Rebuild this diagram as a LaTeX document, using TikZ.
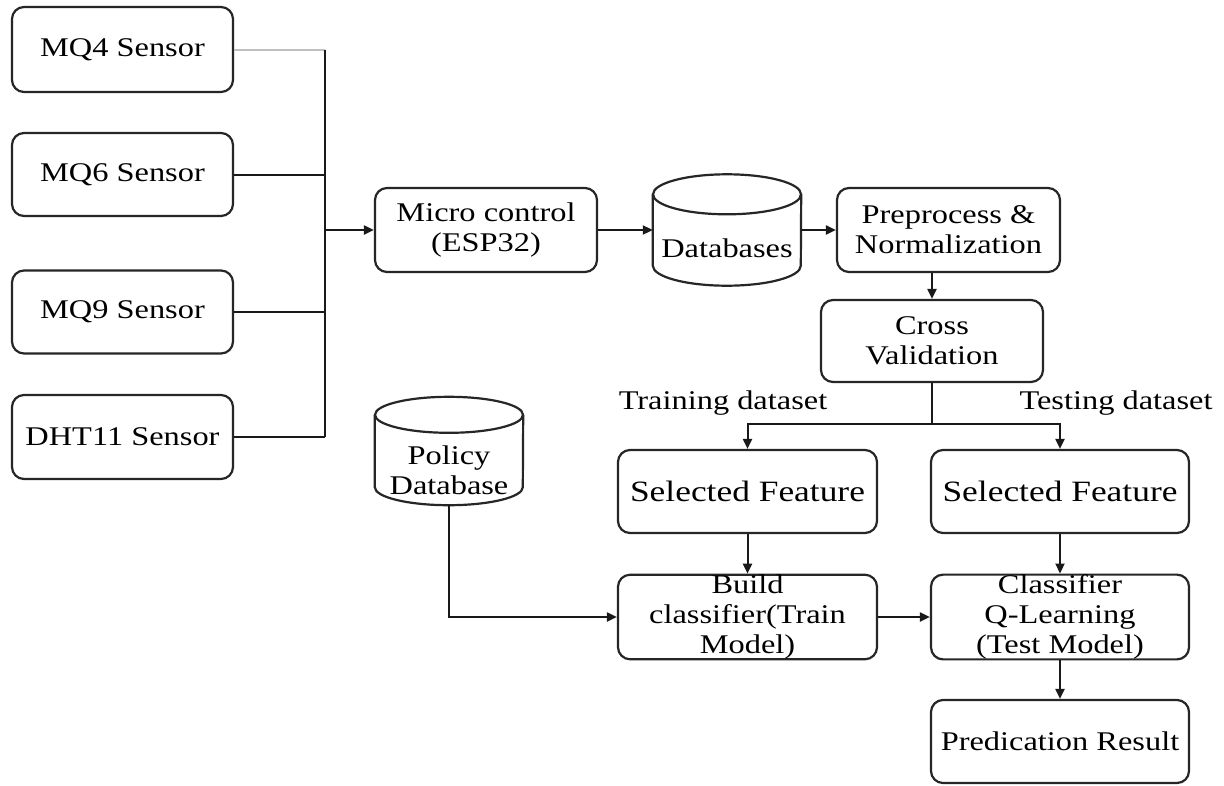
\documentclass[tikz,border=0pt]{standalone}
\usepackage{fontspec}
\setmainfont{Liberation Serif}[FakeStretch=1.2]
\usetikzlibrary{arrows.meta}
\begin{document}
\begin{tikzpicture}[x=1pt,y=-1pt,
  box/.style={draw=black!85, line width=2.2pt, rounded corners=12pt, align=center, font=\fontsize{27}{30}\selectfont, inner sep=0pt},
  lbl/.style={font=\fontsize{27}{30}\selectfont, inner sep=0pt, align=center},
  cylline/.style={draw=black!85, line width=2.2pt},
  conn/.style={draw=black!90, line width=2pt},
  arr/.style={conn, -{Triangle[length=10pt,width=9pt]}},
  sffont/.style={font=\fontsize{29.5}{31}\selectfont}
]
\path[use as bounding box, fill=white] (0,0) rectangle (1224,785);

% sensors
\node[box, minimum width=221pt, minimum height=85pt] (mq4) at (122.5,49.5) {MQ4 Sensor};
\node[box, minimum width=221pt, minimum height=83pt] (mq6) at (122.5,174.5) {MQ6 Sensor};
\node[box, minimum width=221pt, minimum height=83pt] (mq9) at (122.5,312) {MQ9 Sensor};
\node[box, minimum width=221pt, minimum height=84pt] (dht) at (122.5,437) {DHT11 Sensor};

\node[box, minimum width=222pt, minimum height=84pt] (micro) at (486,230) {Micro control\\(ESP32)};

% databases cylinder
\node[minimum width=148pt, minimum height=111pt, inner sep=0pt] (db) at (727,230) {};
\draw[cylline] ([yshift=-20pt]db.north west) -- ([yshift=20pt]db.south west)
  arc[start angle=180, end angle=360, x radius=74pt, y radius=20pt]
  -- ([yshift=-20pt]db.north east);
\draw[cylline] ([yshift=-20pt]db.north) ellipse[x radius=74pt, y radius=20pt];
\node[lbl] (dbt) at (727,248) {Databases};

\node[box, minimum width=223pt, minimum height=84pt] (pre) at (948.5,230) {Preprocess \&\\Normalization};
\node[box, minimum width=222pt, minimum height=82pt] (cross) at (932,341) {Cross\\Validation};

\node[lbl] (train) at (723,403) {Training dataset};
\node[lbl] (test) at (1116,403) {Testing dataset};

\node[box, sffont, minimum width=259pt, minimum height=83pt] (sf1) at (747.5,491.5) {Selected Feature};
\node[box, sffont, minimum width=258pt, minimum height=83pt] (sf2) at (1060,491.5) {Selected Feature};

\node[box, minimum width=259pt, minimum height=81pt] (build) at (747.5,617) {Build\\classifier(Train\\Model)};
\node[box, minimum width=258pt, minimum height=83pt] (clf) at (1060,617) {Classifier\\Q-Learning\\(Test Model)};
\node[box, minimum width=258pt, minimum height=83pt] (pred) at (1060,741.5) {Predication Result};

% policy database cylinder
\node[minimum width=148pt, minimum height=108pt, inner sep=0pt] (pol) at (449,451) {};
\draw[cylline] ([yshift=-18pt]pol.north west) -- ([yshift=18pt]pol.south west)
  arc[start angle=180, end angle=360, x radius=74pt, y radius=18pt]
  -- ([yshift=-18pt]pol.north east);
\draw[cylline] ([yshift=-18pt]pol.north) ellipse[x radius=74pt, y radius=18pt];
\node[lbl] (polt) at (449,470) {Policy\\Database};

% connectors
\coordinate (bus) at (325,230);
\draw[conn, draw=black!25] (mq4.east) -- (mq4.east -| bus);
\draw[conn] (mq6.east) -- (mq6.east -| bus);
\draw[conn] (mq9.east) -- (mq9.east -| bus);
\draw[conn] (dht.east) -- (dht.east -| bus);
\draw[conn] (mq4.east -| bus) -- (dht.east -| bus);
\draw[arr] (bus) -- (micro.west);
\draw[arr] (micro.east) -- (db.west |- micro.east);
\draw[arr] (db.east) -- (pre.west);
\draw[arr] (cross.north |- pre.south) -- (cross.north);
\coordinate (split) at (932,424);
\draw[conn] (cross.south) -- (split);
\draw[arr] (split) -| (sf1.north);
\draw[arr] (split) -| (sf2.north);
\draw[arr] (sf1.south) -- (build.north);
\draw[arr] (sf2.south) -- (clf.north);
\draw[arr] (clf.south) -- (pred.north);
\draw[arr] (build.east) -- (clf.west);
\draw[arr] (pol.south) |- (build.west);
\end{tikzpicture}
\end{document}
